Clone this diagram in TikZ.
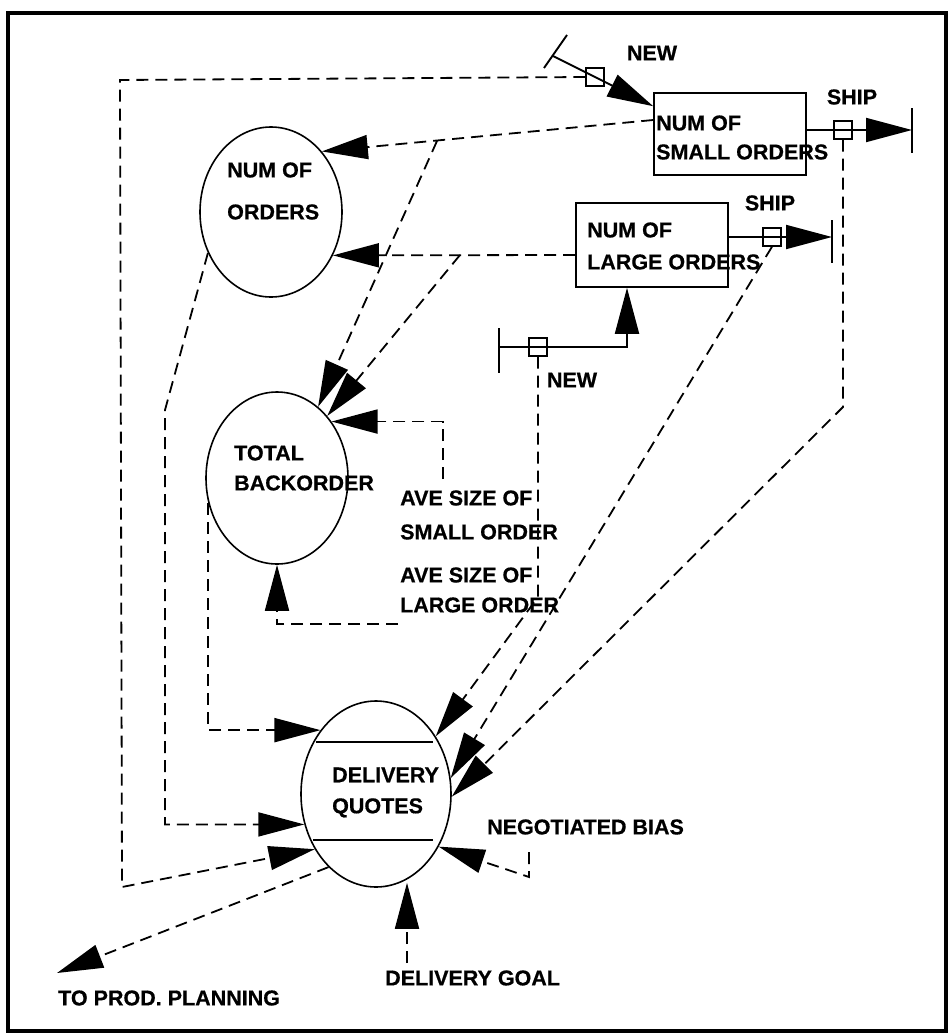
\documentclass[tikz,border=0pt]{standalone}
\usepackage{fontspec}
\setmainfont[FakeBold=0.6]{Liberation Sans}
\usetikzlibrary{arrows.meta,shapes.geometric,calc}
\begin{document}
\begin{tikzpicture}[x=1pt,y=-1pt,
  every node/.style={inner sep=0pt},
  txt/.style={font=\fontsize{21.5}{29}\selectfont\bfseries, align=left, anchor=west},
  lbl/.style={font=\fontsize{21.5}{29}\selectfont\bfseries},
  oval/.style={ellipse, draw, line width=1.6pt},
  stock/.style={rectangle, draw, line width=1.6pt},
  valve/.style={rectangle, draw, line width=1.4pt, minimum size=18pt},
  flow/.style={line width=1.9pt},
  info/.style={line width=1.8pt, dash pattern=on 12pt off 7pt},
  tip/.style={-{Triangle[length=46pt,width=24pt]}},
  edge/.style={line width=1.6pt}]
\useasboundingbox (0,0) rectangle (948,1034);
\draw[line width=3.5pt] (8,13) rectangle (946,1031);

% main shapes
\node[oval, minimum width=142pt, minimum height=170pt] (nord) at (271,212) {};
\node[oval, minimum width=142pt, minimum height=172pt] (tb) at (277,478) {};
\node[oval, minimum width=150pt, minimum height=186pt] (dq) at (376,794) {};
\node[stock, minimum width=152pt, minimum height=82pt] (sbox) at (730,134) {};
\node[stock, minimum width=152pt, minimum height=84pt] (lbox) at (652,245) {};
\draw[edge] ($(dq.center)+(-60,-52)$) -- ($(dq.center)+(57,-52)$);
\draw[edge] ($(dq.center)+(-63,46)$) -- ($(dq.center)+(57,46)$);

% texts
\node[txt] (nordt) at (227,191) {NUM OF\\[13pt]ORDERS};
\node[txt] (sboxt) at (656,137.5) {NUM OF\\SMALL ORDERS};
\node[txt] (lboxt) at (587,246) {NUM OF\\[3pt]LARGE ORDERS};
\node[txt] (tbt) at (234,468) {TOTAL\\[1pt]BACKORDER};
\node[txt] (dqt) at (332,792.5) {DELIVERY\\[2pt]QUOTES};
\node[txt] (avs) at (400,515) {AVE SIZE OF\\[5pt]SMALL ORDER};
\node[txt] (avl) at (400,590) {AVE SIZE OF\\[1pt]LARGE ORDER};
\node[txt] (negot) at (487,827) {NEGOTIATED BIAS};
\node[txt] (dgoal) at (385,978) {DELIVERY GOAL};
\node[txt] (prod) at (58,998) {TO PROD. PLANNING};
\node[lbl] (snewl) at (652,53) {NEW};
\node[lbl] (sshipl) at (852,97) {SHIP};
\node[lbl] (lshipl) at (770,203) {SHIP};
\node[lbl] (lnewl) at (572,380) {NEW};

% valves
\node[valve] (snv) at (595,77) {};
\node[valve] (ssv) at (843,130) {};
\node[valve] (lnv) at (538,347) {};
\node[valve] (lsv) at (772,237) {};

% flow ends
\coordinate (snsrc) at (553,56);
\coordinate (sssink) at (912,130);
\coordinate (lnsrc) at (499,347);
\coordinate (lncorner) at (627,347);
\coordinate (lssink) at (832,237);

% flows
\draw[flow] (544,68) -- (567,35);
\draw[flow,tip] (snsrc) -- (snv.center) -- ([yshift=-14pt]sbox.north west);
\draw[flow,tip] ([yshift=4pt]sbox.east) -- (ssv.center) -- (sssink);
\draw[flow] (912,108) -- (912,153);
\draw[flow] (499,328) -- (499,373);
\draw[flow,tip] (lnsrc) -- (lnv.center) -- (lncorner) -- (lncorner |- lbox.south);
\draw[flow,tip] ([yshift=8pt]lbox.east) -- (lsv.center) -- (lssink);
\draw[flow] (832,220) -- (832,263);

% information links
\coordinate (tl) at (120,80);
\coordinate (bl) at (122,887);
\draw[info,tip] (snv.west) -- (tl) -- (bl) -- (dq.222);
\coordinate (sbr) at (437,141);
\draw[info,tip] ([yshift=14pt]sbox.west) -- (nord.50);
\draw[info,tip] (sbr) -- (tb.60);
\coordinate (lbr) at (460,255);
\draw[info,tip] ([yshift=-10pt]lbox.west) -- (nord.-35);
\draw[info,tip] (lbr) -- (tb.51);
\coordinate (oc) at (165,410);
\draw[info,tip] (nord.213) -- (oc) |- (dq.203);
\draw[info,tip] (tb.200) |- (dq.131);
\coordinate (avsc) at (443,479);
\draw[info,tip] (avsc) |- (tb.46);
\coordinate (avlc) at (398,624);
\draw[info,tip] (avlc) -| (tb.south);
\coordinate (lnb) at (538,597);
\draw[info,tip] (lnv.south) -- (lnb) -- (dq.44);
\draw[info,tip] (lsv.south) -- (dq.12);
\coordinate (ssb) at (843,407);
\draw[info,tip] (ssv.south) -- (ssb) -- (dq.-2);
\coordinate (ngc1) at (529,852);
\coordinate (ngc2) at (529,877);
\draw[info,tip] (ngc1) -- (ngc2) -- (dq.-40);
\coordinate (dgs) at (407,963);
\draw[info,tip] (dgs) -- ($(dgs |- dq.south)+(0,-5)$);
\coordinate (prodtip) at (57,973);
\draw[info,tip] (dq.237) -- (prodtip);
\end{tikzpicture}
\end{document}
